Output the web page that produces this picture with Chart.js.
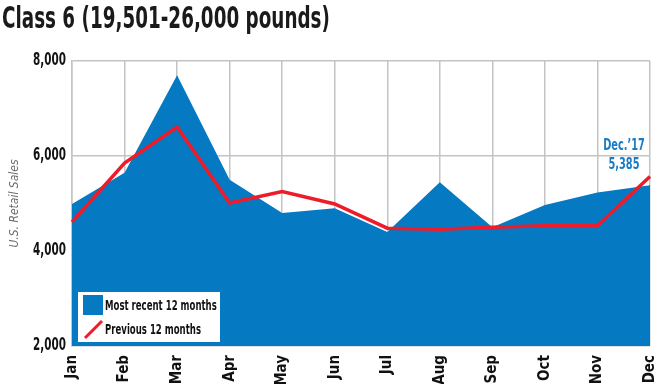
<!DOCTYPE html>
<html>
<head>
<meta charset="utf-8">
<script src="https://cdn.jsdelivr.net/npm/chart.js@4"></script>
<style>
  html, body { margin: 0; padding: 0; background: #fff; }
  #wrap { position: relative; width: 660px; height: 384px; overflow: hidden; }
  #title {
    position: absolute; left: 2px; top: 0px;
    font-family: 'DejaVu Sans Condensed', 'DejaVu Sans', sans-serif;
    font-weight: bold; font-size: 30px; color: #1a1a1a; white-space: nowrap;
    transform: scaleX(0.68); transform-origin: 0 0;
  }
  canvas { position: absolute; left: 0; top: 0; }
</style>
</head>
<body>
<div id="wrap">
  <canvas id="chart" width="660" height="384"></canvas>
  <div id="title">Class 6 (19,501-26,000 pounds)</div>
</div>
<script>
// chart data
const months = ['Jan', 'Feb', 'Mar', 'Apr', 'May', 'Jun', 'Jul', 'Aug', 'Sep', 'Oct', 'Nov', 'Dec'];
const recent12 = [4990, 5650, 7700, 5500, 4800, 4900, 4400, 5450, 4500, 4970, 5230, 5385];
const previous12 = [4610, 5850, 6610, 5010, 5250, 4990, 4480, 4460, 4500, 4530, 4530, 5570];
const yTicks = [2000, 4000, 6000, 8000];
const seriesNames = ['Most recent 12 months', 'Previous 12 months'];
const calloutLines = ['Dec.\u201917', '5,385'];

const FONT = "'DejaVu Sans Condensed', 'DejaVu Sans', sans-serif";
const BLUE = '#0579c2';
const RED = '#ee1c2a';
const SQUEEZE = 0.68; // no narrow font installed, so squeeze horizontal text

const canvas = document.getElementById('chart');
const ctx = canvas.getContext('2d');
const rawFillText = ctx.fillText.bind(ctx);
ctx.fillText = function (text, x, y, maxWidth) {
  const t = this.getTransform();
  if (Math.abs(t.b) > 0.01) {
    // rotated labels stay as they are
    return maxWidth === undefined ? rawFillText(text, x, y) : rawFillText(text, x, y, maxWidth);
  }
  this.save();
  this.translate(x, y);
  this.scale(SQUEEZE, 1);
  rawFillText(text, 0, 0);
  this.restore();
};

// legend box + december callout
const extras = {
  id: 'extras',
  afterDraw(chart) {
    const c = chart.ctx;
    const area = chart.chartArea;
    c.save();
    // legend
    const lx = area.left + 6, ly = area.bottom - 54;
    c.fillStyle = '#fff';
    c.fillRect(lx, ly, 142, 50);
    c.fillStyle = BLUE;
    c.fillRect(lx + 5, ly + 3, 20, 20);
    c.strokeStyle = RED;
    c.lineWidth = 3;
    c.beginPath();
    c.moveTo(lx + 7, ly + 46);
    c.lineTo(lx + 24, ly + 29);
    c.stroke();
    c.fillStyle = '#111';
    c.font = 'bold 14px ' + FONT;
    c.textBaseline = 'middle';
    c.fillText(seriesNames[0], lx + 27, ly + 14);
    c.fillText(seriesNames[1], lx + 27, ly + 38);
    // callout
    const xs = chart.scales.x, ys = chart.scales.y;
    const cx = xs.getPixelForValue(months.length - 1) - 26;
    const cy = ys.getPixelForValue(recent12[recent12.length - 1]);
    c.fillStyle = '#1a7cc4';
    c.font = 'bold 16px ' + FONT;
    c.textAlign = 'center';
    c.fillText(calloutLines[0], cx, cy - 39);
    c.fillText(calloutLines[1], cx, cy - 20);
    c.restore();
  }
};

new Chart(canvas, {
  type: 'line',
  data: {
    labels: months,
    datasets: [
      {
        label: seriesNames[1],
        data: previous12,
        borderColor: RED,
        borderWidth: 3.5,
        pointRadius: 0,
        fill: false,
        tension: 0,
        order: 0
      },
      {
        label: seriesNames[0],
        data: recent12,
        borderColor: BLUE,
        borderWidth: 0,
        backgroundColor: BLUE,
        pointRadius: 0,
        fill: 'start',
        tension: 0,
        order: 1
      }
    ]
  },
  options: {
    responsive: false,
    animation: false,
    layout: { padding: { top: 61, right: 10, left: 0, bottom: 0 } },
    plugins: { legend: { display: false }, tooltip: { enabled: false } },
    scales: {
      x: {
        offset: false,
        grid: { color: '#c4c4c4', lineWidth: 1.5, drawTicks: false },
        border: { display: false },
        ticks: {
          minRotation: 90, maxRotation: 90, padding: 9,
          color: '#111', font: { family: FONT, weight: 'bold', size: 15 }
        },
        afterFit(scale) {
          scale.height = 38;
          scale.paddingLeft = 0;
          scale.paddingRight = 0;
        }
      },
      y: {
        min: 2000, max: 8000,
        afterBuildTicks(scale) { scale.ticks = yTicks.map(v => ({ value: v })); },
        grid: { color: '#c4c4c4', lineWidth: 1.5, drawTicks: false },
        border: { color: '#c4c4c4', width: 1.5 },
        ticks: {
          padding: 6, color: '#111',
          font: { family: FONT, weight: 'bold', size: 17 },
          callback: v => v.toLocaleString('en-US')
        },
        title: {
          display: true, text: 'U.S. Retail Sales', color: '#6d6d6d',
          font: { family: FONT, style: 'italic', size: 12 },
          padding: { top: 8, bottom: 0 }
        },
        afterFit(scale) { scale.width = 72; }
      }
    }
  },
  plugins: [extras]
});
</script>
</body>
</html>
